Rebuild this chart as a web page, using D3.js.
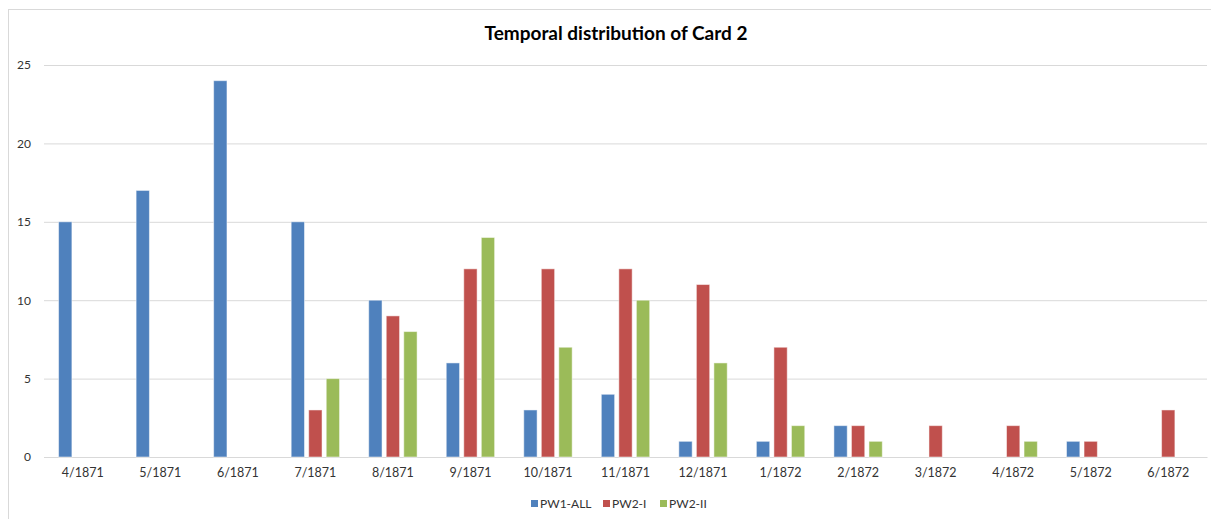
<!DOCTYPE html>
<html>
<head>
<meta charset="utf-8">
<script src="https://cdnjs.cloudflare.com/ajax/libs/d3/7.8.5/d3.min.js"></script>
<style>
  body { margin: 0; background: #fff; }
  svg { font-family: Lato, "Open Sans", sans-serif; }
</style>
</head>
<body>
<svg id="chart" width="1211" height="519"></svg>
<script>
(function (d3) {
  'use strict';

  const months = ['4/1871', '5/1871', '6/1871', '7/1871', '8/1871', '9/1871', '10/1871',
    '11/1871', '12/1871', '1/1872', '2/1872', '3/1872', '4/1872', '5/1872', '6/1872'];
  const seriesNames = ['PW1-ALL', 'PW2-I', 'PW2-II'];
  const pw1All = [15, 17, 24, 15, 10, 6, 3, 4, 1, 1, 2, 0, 0, 1, 0];
  const pw2I   = [0, 0, 0, 3, 9, 12, 12, 12, 11, 7, 2, 2, 2, 1, 3];
  const pw2II  = [0, 0, 0, 5, 8, 14, 7, 10, 6, 2, 1, 0, 1, 0, 0];
  const yTicks = [0, 5, 10, 15, 20, 25];
  const colors = ['#4f81bd', '#c0504d', '#9bbb59'];

  const seriesValues = [pw1All, pw2I, pw2II];
  const data = months.map((m, i) => ({
    month: m,
    values: seriesNames.map((s, j) => ({ key: s, value: seriesValues[j][i] }))
  }));

  const svg = d3.select('svg#chart');
  const width = 1211, height = 519;
  const margin = { top: 65, right: 4, bottom: 62, left: 44 };
  const innerWidth = width - margin.left - margin.right;
  const innerHeight = height - margin.top - margin.bottom;

  // outer chart frame
  svg.append('rect')
    .attr('x', 8.5).attr('y', 9.5)
    .attr('width', width + 10).attr('height', height + 10)
    .attr('fill', 'none')
    .attr('stroke', '#d9d9d9');

  svg.append('text')
    .attr('x', 616).attr('y', 40)
    .attr('text-anchor', 'middle')
    .attr('font-size', 19)
    .attr('font-weight', 'bold')
    .attr('fill', '#000')
    .text('Temporal distribution of Card 2');

  const g = svg.append('g')
    .attr('transform', `translate(${margin.left},${margin.top})`);

  const xScale = d3.scaleBand()
    .domain(months)
    .range([0, innerWidth])
    .padding(0);

  const bw = xScale.bandwidth();
  const xInner = d3.scaleBand()
    .domain(seriesNames)
    .range([bw * 0.188, bw * 0.812])
    .paddingInner(0.24)
    .paddingOuter(0);

  const yScale = d3.scaleLinear()
    .domain([0, 25])
    .range([innerHeight, 0]);

  // y axis with gridlines
  const yAxisG = g.append('g')
    .call(d3.axisLeft(yScale).tickValues(yTicks).tickSize(-innerWidth).tickPadding(13));
  yAxisG.select('.domain').remove();
  yAxisG.selectAll('line').attr('stroke', '#d9d9d9');
  yAxisG.selectAll('text')
    .attr('fill', '#333')
    .attr('font-size', 12)
    .attr('font-family', 'Lato, "Open Sans", sans-serif');

  // x axis
  const xAxisG = g.append('g')
    .attr('transform', `translate(0,${innerHeight})`)
    .call(d3.axisBottom(xScale).tickSize(0).tickPadding(11));
  xAxisG.select('.domain').attr('stroke', '#d9d9d9');
  xAxisG.selectAll('text')
    .attr('fill', '#333')
    .attr('font-size', 12.5)
    .attr('font-family', 'Lato, "Open Sans", sans-serif');

  // bars
  const groups = g.selectAll('.group').data(data)
    .enter().append('g')
      .attr('class', 'group')
      .attr('transform', d => `translate(${xScale(d.month)},0)`);

  groups.selectAll('rect')
    .data(d => d.values.filter(v => v.value > 0))
    .enter().append('rect')
      .attr('x', d => xInner(d.key))
      .attr('y', d => yScale(d.value))
      .attr('width', xInner.bandwidth())
      .attr('height', d => innerHeight - yScale(d.value))
      .attr('fill', d => colors[seriesNames.indexOf(d.key)])
      .attr('stroke', '#fff')
      .attr('stroke-opacity', 0.5)
      .attr('stroke-width', 1);

  // legend
  const legendX = [531, 603, 660];
  const legend = svg.append('g').attr('transform', 'translate(0,504)');
  const items = legend.selectAll('g').data(seriesNames)
    .enter().append('g')
      .attr('transform', (d, i) => `translate(${legendX[i]},0)`);
  items.append('rect')
    .attr('x', 0).attr('y', -4)
    .attr('width', 7).attr('height', 7)
    .attr('fill', (d, i) => colors[i]);
  items.append('text')
    .attr('x', 9).attr('y', 4)
    .attr('font-size', 12)
    .attr('fill', '#333')
    .text(d => d);

}(d3));
</script>
</body>
</html>
